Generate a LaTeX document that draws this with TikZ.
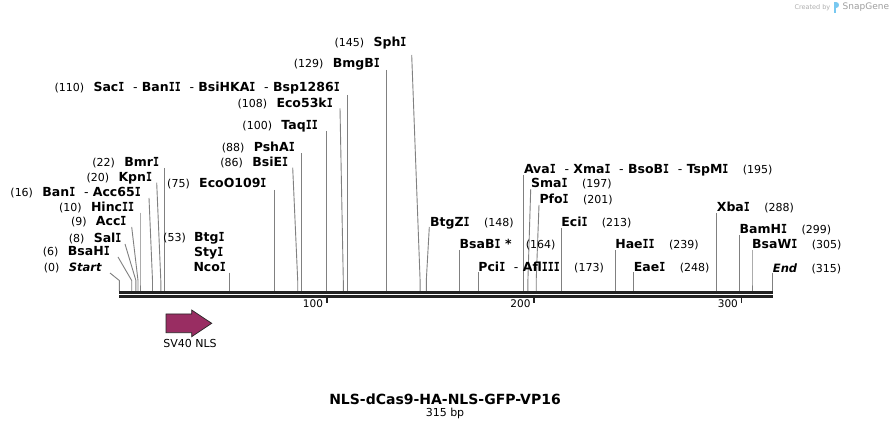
\documentclass[tikz,border=0pt]{standalone}
\usepackage{fontspec}
\usepackage{graphicx}
\setmainfont{DejaVu Sans}
\newfontfamily\monofam{DejaVu Sans Mono}
\definecolor{sitegray}{RGB}{128,128,128}
\definecolor{bbcol}{RGB}{34,34,34}
\definecolor{nlscol}{RGB}{153,45,98}
\definecolor{logogray}{RGB}{175,175,175}
\definecolor{logoblue}{RGB}{120,200,240}
\newcommand\rsep{\ \ {\mdseries -}\ }
\newcommand\vI{\scalebox{0.8}[1]{\monofam\bfseries I}}
\begin{document}
\begin{tikzpicture}[x=1pt,y=-1pt,
  nm/.style={font=\fontsize{12.5}{14}\selectfont\bfseries,inner sep=0pt},
  nmi/.style={font=\fontsize{11.5}{14}\selectfont\bfseries\itshape,inner sep=0pt},
  num/.style={font=\fontsize{11}{13}\selectfont,inner sep=0pt},
  site/.style={draw=sitegray,line width=0.9pt},
  bb/.style={draw=bbcol,line width=2.8pt},
  tickmark/.style={draw=bbcol,line width=1.6pt},
  ticklab/.style={font=\fontsize{10.5}{12}\selectfont,inner sep=0pt}]
\fill[white] (0,0) rectangle (892,430);
\useasboundingbox (0,0) rectangle (892,430);

% ---------- site lines ----------
\foreach \n/\xa/\ya/\xb in {0/110/273/119.3, 6/118/257/131.7, 8/125/244/135.9, 9/131.7/227/138.0,
  10/140/212.7/140.0, 16/149/198/152.5, 20/156.7/182.7/160.8, 22/164.9/168/164.9,
  53/229.2/272.7/229.2, 75/274.9/190/274.9, 86/292.7/167.7/297.7, 88/301.8/153.3/301.8,
  100/326.7/131/326.7, 108/340/108.3/343.3, 110/347.5/95/347.5, 129/386.9/70/386.9,
  145/411.7/55/420.1, 148/429.3/227/426.3, 164/459.5/250/459.5, 173/478.2/272/478.2,
  195/523.8/175/523.8, 197/530.7/189.3/527.9, 201/539/205/536.2, 213/561.1/228/561.1,
  239/615.1/250/615.1, 248/633.7/272/633.7, 288/716.7/213/716.7, 299/739.5/235/739.5,
  305/752/250/752, 315/772.7/273/772.7}{
  \coordinate (a\n) at (\xa,\ya);
  \coordinate (k\n) at (\xb,280.5);
  \coordinate (s\n) at (\xb,291);
  \draw[site] (a\n) -- (k\n) -- (s\n);
}

% ---------- backbone ----------
\coordinate (bbL1) at (119.3,292.4); \coordinate (bbR1) at (772.7,292.4);
\coordinate (bbL2) at (119.3,296.4); \coordinate (bbR2) at (772.7,296.4);
\draw[bb] (bbL1) -- (bbR1);
\draw[bb] (bbL2) -- (bbR2);
\foreach \t/\xx in {100/326.7, 200/534.2, 300/741.6}{
  \coordinate (ta\t) at (\xx,297);
  \coordinate (tb\t) at (\xx,303.5);
  \draw[tickmark] (ta\t) -- (tb\t);
  \node[ticklab,anchor=base east] (tl\t) at (\xx-3.5,307.3) {\t};
}

% ---------- left labels ----------
\node[nmi,anchor=base east] (n0) at (101.7,271.1) {Start};
\node[nm,anchor=base east] (n6) at (110,255.1) {BsaH\vI};
\node[nm,anchor=base east] (n8) at (121.7,242.1) {Sal\vI};
\node[nm,anchor=base east] (n9) at (126.7,225.4) {Acc\vI};
\node[nm,anchor=base east] (n10) at (134.3,211.1) {Hinc\vI\vI};
\node[nm,anchor=base east] (n16) at (141,196.7) {Ban\vI\rsep Acc65\vI};
\node[nm,anchor=base east] (n20) at (152.3,181.1) {Kpn\vI};
\node[nm,anchor=base east] (n22) at (159.3,166.7) {Bmr\vI};
\node[nm,anchor=base east] (n75) at (266.7,187.7) {EcoO109\vI};
\node[nm,anchor=base east] (n86) at (288.3,166.1) {BsiE\vI};
\node[nm,anchor=base east] (n88) at (295,151.1) {PshA\vI};
\node[nm,anchor=base east] (n100) at (318,129.4) {Taq\vI\vI};
\node[nm,anchor=base east] (n108) at (333,107.1) {Eco53k\vI};
\node[nm,anchor=base east] (n110) at (340,91.1) {Sac\vI\rsep Ban\vI\vI\rsep BsiHKA\vI\rsep Bsp1286\vI};
\node[nm,anchor=base east] (n129) at (380,67.7) {BmgB\vI};
\node[nm,anchor=base east] (n145) at (406.7,46.7) {Sph\vI};
\foreach \n in {0,6,8,9,10,16,20,22,75,86,88,100,108,110,129,145}{
  \node[num,anchor=base east] (c\n) at ([xshift=-9pt]n\n.base west) {(\n)};
}
\node[nm,anchor=base west] (n53a) at (194,241.1) {Btg\vI};
\node[nm,anchor=base west] (n53b) at (194,256.4) {Sty\vI};
\node[nm,anchor=base west] (n53c) at (193.3,271.1) {Nco\vI};
\node[num,anchor=base east] (c53) at ([xshift=-8pt]n53a.base west) {(53)};

% ---------- right labels ----------
\node[nm,anchor=base west] (n148) at (430,226.1) {BtgZ\vI};
\node[nm,anchor=base west] (n164) at (459.5,248.7) {BsaB\vI{} *};
\node[nm,anchor=base west] (n173) at (478.2,271.1) {Pci\vI\rsep Afl\vI\vI\vI};
\node[nm,anchor=base west] (n195) at (523.8,173.7) {Ava\vI\rsep Xma\vI\rsep BsoB\vI\rsep TspM\vI};
\node[nm,anchor=base west] (n197) at (531,187.7) {Sma\vI};
\node[nm,anchor=base west] (n201) at (539.3,203.4) {Pfo\vI};
\node[nm,anchor=base west] (n213) at (561.1,226.1) {Eci\vI};
\node[nm,anchor=base west] (n239) at (615.1,248.7) {Hae\vI\vI};
\node[nm,anchor=base west] (n248) at (633.7,271.1) {Eae\vI};
\node[nm,anchor=base west] (n288) at (716.7,211.7) {Xba\vI};
\node[nm,anchor=base west] (n299) at (739.5,233.7) {BamH\vI};
\node[nm,anchor=base west] (n305) at (752,248.7) {BsaW\vI};
\node[nmi,anchor=base west] (n315) at (772.7,272.1) {End};
\foreach \n in {148,164,173,195,197,201,213,239,248,288,299,305,315}{
  \node[num,anchor=base west] (c\n) at ([xshift=14pt]n\n.base east) {(\n)};
}

% ---------- feature ----------
\draw[fill=nlscol,draw=black!85,line width=0.7pt]
  (166,314) -- (191.7,314) -- (191.7,310) -- (211.7,323.3) -- (191.7,336.7)
  -- (191.7,332.7) -- (166,332.7) -- cycle;
\node[font=\fontsize{11}{13}\selectfont,inner sep=0pt] (nlslab) at (190,343.6) {SV40 NLS};

% ---------- title ----------
\node[font=\fontsize{14}{16}\selectfont\bfseries,inner sep=0pt] (title) at (445,399.3) {NLS-dCas9-HA-NLS-GFP-VP16};
\node[font=\fontsize{11}{13}\selectfont,inner sep=0pt] (len) at (445,413.3) {315 bp};

% ---------- logo ----------
\node[font=\fontsize{6.5}{8}\selectfont,text=logogray,inner sep=0pt,anchor=east] (cby) at (830.5,7.3) {Created by};
\fill[logoblue] (833.5,2.5) rectangle (836,13) ;
\fill[logoblue] (836,2.5) .. controls (840,2.5) and (840,8) .. (836,8) -- cycle;
\node[font=\fontsize{9}{11}\selectfont,text=logogray!120,inner sep=0pt,anchor=west] (sg) at (842.5,7.3) {SnapGene};
\end{tikzpicture}
\end{document}
